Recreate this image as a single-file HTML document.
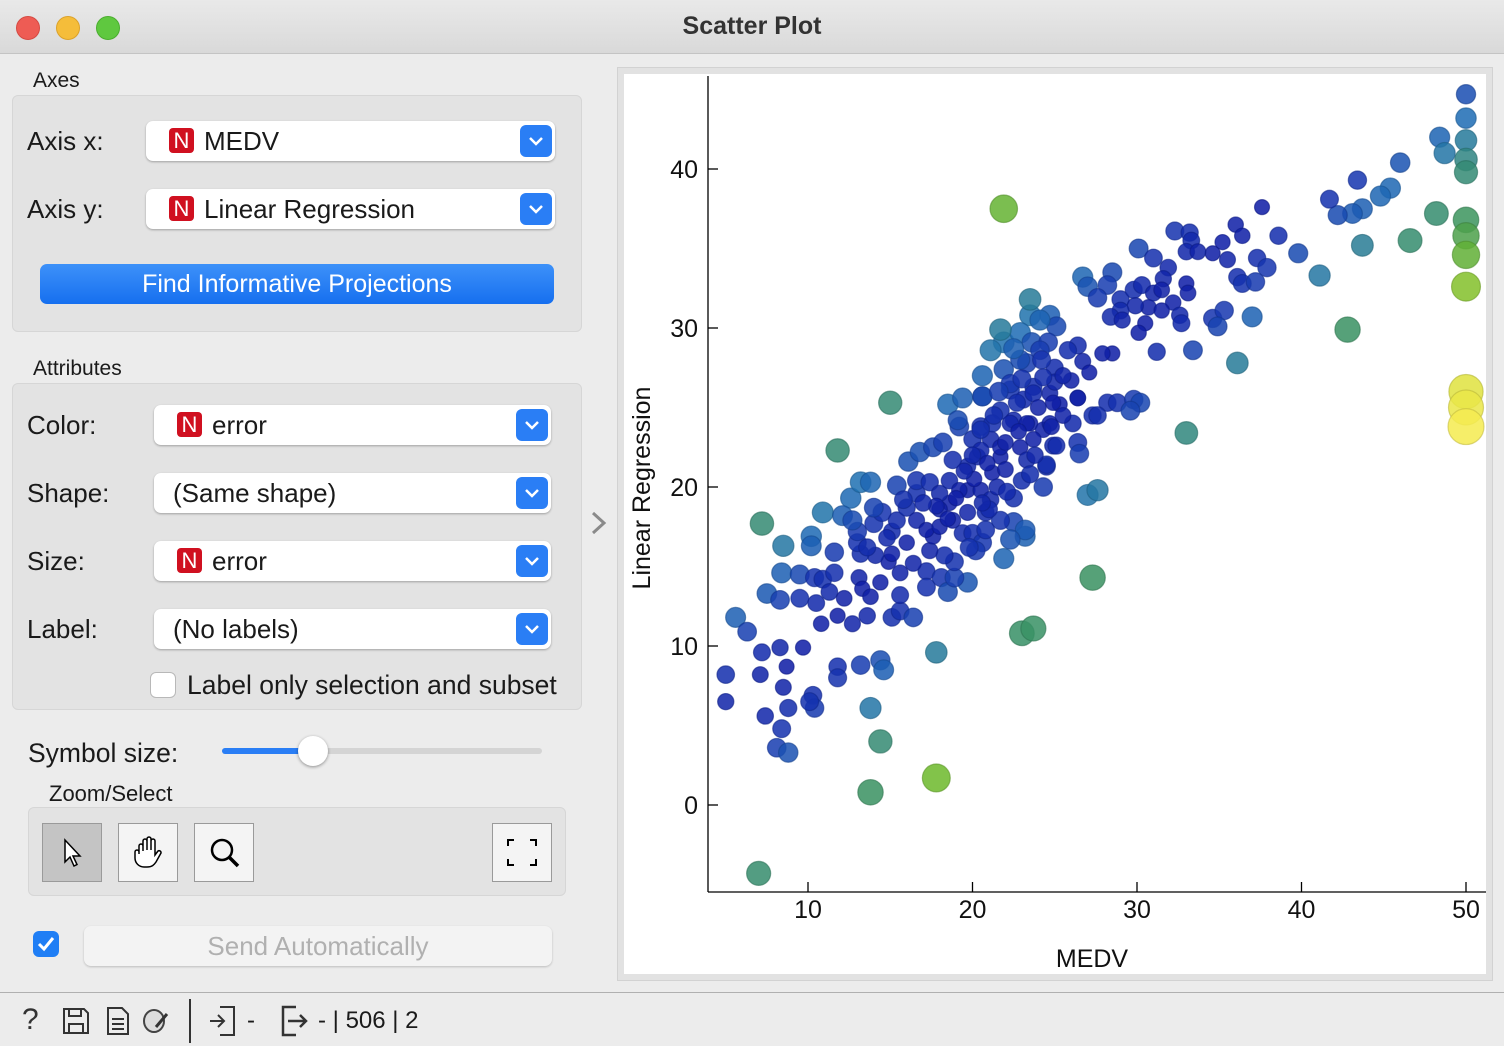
<!DOCTYPE html>
<html><head><meta charset="utf-8">
<style>
*{box-sizing:border-box}
body{margin:0;width:1504px;height:1046px;overflow:hidden;background:#ececec;font-family:"Liberation Sans",sans-serif;color:#1a1a1a;position:relative}
.abs{position:absolute}
.titlebar{left:0;top:0;width:1504px;height:54px;background:linear-gradient(#e9e9e9,#d9d9d9);border-bottom:1px solid #c4c4c4}
.light{width:24px;height:24px;border-radius:50%;top:16px}
.box{background:#e3e3e3;border:1px solid #d6d6d6;border-radius:6px}
.lbl{font-size:26px}
.combo{background:#fff;border-radius:7px;box-shadow:0 1px 2px rgba(0,0,0,.3);height:40px;font-size:26px;line-height:40px}
.badge{position:absolute;top:7px;width:25px;height:25px;background:#d01020;color:#fff;border-radius:4px;font-size:22px;line-height:25px;text-align:center}
.arr{position:absolute;right:3px;top:4px;width:32px;height:32px;background:#2a7ef5;border-radius:6px}
.tb{background:#f4f4f4;border:1px solid #9a9a9a;width:60px;height:59px}
</style></head><body>
<div class="abs titlebar">
 <div class="abs light" style="left:16px;background:#ee5c54;border:1px solid #d54a42"></div>
 <div class="abs light" style="left:56px;background:#f5bd3a;border:1px solid #dca22a"></div>
 <div class="abs light" style="left:96px;background:#5fc83f;border:1px solid #4aae2e"></div>
 <div class="abs" style="left:0;width:1504px;top:12px;text-align:center;font-size:25px;font-weight:bold;color:#333">Scatter Plot</div>
</div>

<div class="abs" style="left:33px;top:69px;font-size:21px">Axes</div>
<div class="abs box" style="left:12px;top:95px;width:570px;height:237px"></div>
<div class="abs lbl" style="left:27px;top:126px">Axis x:</div>
<div class="abs combo" style="left:146px;top:121px;width:409px"><span class="badge" style="left:23px">N</span><span style="position:absolute;left:58px">MEDV</span><span class="arr"><svg width="32" height="32"><path d="M10 13l6 6 6-6" stroke="#fff" stroke-width="2.5" fill="none"/></svg></span></div>
<div class="abs lbl" style="left:27px;top:194px">Axis y:</div>
<div class="abs combo" style="left:146px;top:189px;width:409px"><span class="badge" style="left:23px">N</span><span style="position:absolute;left:58px">Linear Regression</span><span class="arr"><svg width="32" height="32"><path d="M10 13l6 6 6-6" stroke="#fff" stroke-width="2.5" fill="none"/></svg></span></div>
<div class="abs" style="left:40px;top:264px;width:514px;height:40px;border-radius:7px;background:linear-gradient(#3d91f9,#166fef);color:#fff;font-size:25px;line-height:40px;text-align:center">Find Informative Projections</div>

<div class="abs" style="left:33px;top:357px;font-size:21px">Attributes</div>
<div class="abs box" style="left:12px;top:383px;width:570px;height:327px"></div>
<div class="abs lbl" style="left:27px;top:410px">Color:</div>
<div class="abs combo" style="left:154px;top:405px;width:397px"><span class="badge" style="left:23px">N</span><span style="position:absolute;left:58px">error</span><span class="arr"><svg width="32" height="32"><path d="M10 13l6 6 6-6" stroke="#fff" stroke-width="2.5" fill="none"/></svg></span></div>
<div class="abs lbl" style="left:27px;top:478px">Shape:</div>
<div class="abs combo" style="left:154px;top:473px;width:397px"><span style="position:absolute;left:19px">(Same shape)</span><span class="arr"><svg width="32" height="32"><path d="M10 13l6 6 6-6" stroke="#fff" stroke-width="2.5" fill="none"/></svg></span></div>
<div class="abs lbl" style="left:27px;top:546px">Size:</div>
<div class="abs combo" style="left:154px;top:541px;width:397px"><span class="badge" style="left:23px">N</span><span style="position:absolute;left:58px">error</span><span class="arr"><svg width="32" height="32"><path d="M10 13l6 6 6-6" stroke="#fff" stroke-width="2.5" fill="none"/></svg></span></div>
<div class="abs lbl" style="left:27px;top:614px">Label:</div>
<div class="abs combo" style="left:154px;top:609px;width:397px"><span style="position:absolute;left:19px">(No labels)</span><span class="arr"><svg width="32" height="32"><path d="M10 13l6 6 6-6" stroke="#fff" stroke-width="2.5" fill="none"/></svg></span></div>
<div class="abs" style="left:150px;top:672px;width:26px;height:26px;background:#fff;border:1px solid #b8b8b8;border-radius:6px"></div>
<div class="abs" style="left:187px;top:670px;font-size:26.5px">Label only selection and subset</div>

<div class="abs" style="left:28px;top:738px;font-size:26.5px">Symbol size:</div>
<div class="abs" style="left:222px;top:748px;width:320px;height:6px;background:#d4d4d4;border-radius:3px"></div>
<div class="abs" style="left:222px;top:748px;width:92px;height:6px;background:#2a7ef5;border-radius:3px"></div>
<div class="abs" style="left:298px;top:736px;width:30px;height:30px;background:#fff;border-radius:50%;box-shadow:0 1px 3px rgba(0,0,0,.4)"></div>

<div class="abs" style="left:49px;top:781px;font-size:22px">Zoom/Select</div>
<div class="abs box" style="left:28px;top:807px;width:538px;height:89px"></div>
<div class="abs tb" style="left:42px;top:823px;background:#c4c4c4"><svg width="58" height="57"><path d="M22 16v22l5-5 4 9 3-1.5-4-8.5h7z" fill="#fff" stroke="#000" stroke-width="1.5"/></svg></div>
<div class="abs tb" style="left:118px;top:823px"><svg width="58" height="57"><path d="M20 30v-8a2 2 0 014 0v5v-10a2 2 0 014 0v9v-11a2 2 0 014 0v11v-9a2 2 0 014 0v14l3-4a2 2 0 013 2l-5 9c-2 3-4 5-9 5h-3c-5 0-9-4-9-9v-6a2 2 0 014 0z" fill="#fff" stroke="#000" stroke-width="1.5"/></svg></div>
<div class="abs tb" style="left:194px;top:823px"><svg width="58" height="57"><circle cx="27" cy="26" r="10" fill="none" stroke="#000" stroke-width="2.5"/><path d="M34 33l9 9" stroke="#000" stroke-width="3.5"/></svg></div>
<div class="abs tb" style="left:492px;top:823px"><svg width="58" height="57"><path d="M15 22v-6h6M37 16h6v6M43 35v6h-6M21 41h-6v-6" stroke="#000" stroke-width="2" fill="none"/></svg></div>

<div class="abs" style="left:33px;top:931px;width:26px;height:26px;background:#1f7ef5;border-radius:6px"><svg width="26" height="26"><path d="M6 13l5 5 9-11" stroke="#fff" stroke-width="3" fill="none"/></svg></div>
<div class="abs" style="left:84px;top:926px;width:468px;height:40px;background:#f3f3f3;border-radius:7px;box-shadow:0 1px 2px rgba(0,0,0,.2);color:#b0b0b0;font-size:26px;line-height:40px;text-align:center">Send Automatically</div>

<div class="abs" style="left:590px;top:508px;font-size:30px;color:#888"><svg width="20" height="30"><path d="M3 5l11 10-11 10" stroke="#8a8a8a" stroke-width="3" fill="none"/></svg></div>

<div class="abs" style="left:0;top:992px;width:1504px;height:54px;background:#ececec;border-top:1px solid #b0b0b0">
 <div class="abs" style="left:22px;top:10px;font-size:30px;color:#333">?</div>
 <svg class="abs" style="left:62px;top:14px" width="28" height="28"><path d="M2 2h20l4 4v20H2z M7 2v7h12V2 M7 26v-9h14v9" fill="none" stroke="#333" stroke-width="2"/></svg>
 <svg class="abs" style="left:106px;top:13px" width="24" height="30"><path d="M2 2h14l6 6v20H2z M6 13h12M6 18h12M6 23h12" fill="none" stroke="#333" stroke-width="2"/></svg>
 <svg class="abs" style="left:142px;top:14px" width="28" height="28"><ellipse cx="12" cy="14" rx="10" ry="11" fill="#ddd" stroke="#444" stroke-width="2"/><path d="M14 20l11-13" stroke="#333" stroke-width="3"/></svg>
 <div class="abs" style="left:189px;top:6px;width:2px;height:44px;background:#333"></div>
 <svg class="abs" style="left:208px;top:12px" width="30" height="32"><path d="M12 2h14v28H12 M2 16h14 M10 10l6 6-6 6" fill="none" stroke="#333" stroke-width="2"/></svg>
 <div class="abs" style="left:247px;top:14px;font-size:24px">-</div>
 <svg class="abs" style="left:280px;top:12px" width="30" height="32"><path d="M16 2H3v28h13 M8 16h18 M20 10l6 6-6 6" fill="none" stroke="#333" stroke-width="2.5"/></svg>
 <div class="abs" style="left:318px;top:14px;font-size:24px">- | 506 | 2</div>
</div>

<div class="abs" style="left:617px;top:67px;width:876px;height:914px;background:#e2e2e2;border:1px solid #d2d2d2"></div>
<svg class="abs" id="plot" style="left:624px;top:74px;background:#fff" width="862" height="900"></svg>

<script>
const medv=[15.0,11.8,7.2,8.5,10.2,10.2,11.6,8.4,9.5,10.4,10.9,11.6,11.3,7.5,8.3,9.5,10.5,5.6,6.3,10.8,11.8,12.7,12.2,13.1,13.3,13.8,13.6,14.4,15.1,15.6,16.4,15.6,15.6,14.9,15.1,14.1,13.2,13.0,13.6,13.0,14.0,14.5,14.0,15.1,15.4,16.0,16.6,16.6,15.4,16.6,17.4,17.2,17.2,18.1,18.5,19.7,18.9,18.9,18.3,17.4,16.4,17.6,17.2,18.0,18.8,19.4,20.0,20.6,20.2,21.9,20.8,19.7,18.6,18.0,18.6,19.7,20.5,19.7,18.8,20.3,21.2,21.7,21.1,20.0,19.2,20.5,21.7,22.5,22.9,23.5,24.3,24.9,24.5,24.3,23.0,22.5,22.5,23.2,23.2,18.5,19.4,20.6,19.1,16.1,16.8,17.6,12.6,13.2,13.8,10.9,12.1,12.7,22.3,23.1,23.7,24.7,25.3,26.4,26.1,26.4,26.5,27.3,27.0,27.6,27.3,23.0,23.7,5.0,5.0,7.2,8.3,9.7,8.7,7.1,8.5,8.8,7.4,8.4,8.1,8.8,10.3,10.4,10.1,11.8,11.8,13.2,14.4,14.6,13.8,17.8,14.4,17.8,13.8,7.0,21.9,37.6,36.0,36.4,38.6,39.8,41.1,32.3,33.2,33.3,35.2,34.6,35.5,37.3,37.9,36.1,36.4,37.2,33.0,33.7,30.1,31.0,31.9,31.6,28.5,28.2,26.7,27.0,27.6,29.0,29.8,30.3,31.0,31.5,33.0,33.1,32.2,30.7,29.9,29.0,28.4,29.1,30.5,30.1,31.5,32.6,32.7,34.6,35.3,34.9,37.0,36.1,33.0,33.4,31.2,28.5,27.9,26.4,26.7,27.1,26.4,28.2,28.8,29.8,30.2,29.6,27.6,23.5,24.7,25.1,21.9,22.9,23.6,20.6,21.9,20.6,24.6,25.0,25.0,24.3,23.3,22.3,23.7,24.9,22.7,23.3,24.7,25.1,23.7,22.3,21.2,21.7,20.5,20.5,23.3,24.5,50,50,50,50,48.4,48.7,46.0,45.4,44.8,43.7,43.1,42.2,41.7,43.4,43.7,50,50,50,50,50,48.2,46.6,42.8,50,50,50,21.1,22.0,19.2,21.7,20.8,18.0,22.3,24.1,22.9,21.1,21.7,24.1,23.5,25.8,26.0,20.1,20.9,21.5,22.0,22.8,23.8,24.0,23.0,21.3,20.0,19.5,18.5,19.0,21.0,22.1,23.5,24.8,25.5,24.2,22.5,19.8,17.8,16.0,14.8,15.8,21.6,25.5,20.6,18.2,17.0];
const predicted=[25.3,22.3,17.7,16.3,16.9,16.3,15.9,14.6,14.5,14.3,14.2,14.6,13.4,13.3,12.9,13.0,12.7,11.8,10.9,11.4,11.9,11.4,13.0,14.3,13.6,13.1,11.9,14.0,11.8,12.2,11.8,13.2,14.6,15.3,15.8,15.7,15.8,16.5,16.2,17.2,17.7,18.4,18.7,17.2,17.9,18.7,17.9,19.6,20.1,20.4,20.3,14.7,13.7,14.3,13.4,14.0,14.3,15.3,15.7,16.0,15.2,16.9,17.3,17.5,17.9,17.1,17.1,16.5,16.0,15.5,18.4,18.4,19.0,19.6,20.4,19.8,19.8,21.3,21.7,21.9,20.9,21.9,23.0,23.0,23.8,23.8,24.8,24.2,22.5,24.0,23.6,22.6,21.3,20.0,20.4,19.3,17.8,16.9,17.3,25.2,25.6,25.7,24.2,21.6,22.2,22.5,19.3,20.3,20.3,18.4,18.2,17.9,26.1,25.5,26.3,25.9,25.2,25.6,24.0,22.8,22.1,24.5,19.5,19.8,14.3,10.8,11.1,8.2,6.5,9.6,9.9,9.9,8.7,8.2,7.4,6.1,5.6,4.8,3.6,3.3,6.9,6.1,6.5,8.7,8.0,8.8,9.1,8.5,6.1,9.6,4.0,1.7,0.8,-4.3,37.5,37.6,36.5,35.8,35.8,34.7,33.3,36.1,36.0,35.5,35.4,34.7,34.3,34.4,33.8,33.2,32.8,32.9,34.8,34.8,35.0,34.4,33.8,33.1,33.5,32.7,33.2,32.6,31.9,31.8,32.4,32.7,32.2,32.4,32.8,32.2,31.6,31.3,31.4,31.1,30.7,30.5,30.3,29.7,31.1,30.8,30.3,30.6,31.1,30.1,30.7,27.8,23.4,28.6,28.5,28.4,28.4,28.9,27.9,27.2,25.6,25.3,25.3,25.5,25.3,24.8,24.5,30.8,30.8,30.1,29.1,29.7,29.1,27.0,27.4,25.7,29.1,27.5,26.6,26.9,27.8,26.5,25.9,25.3,25.3,24.0,24.0,22.6,23.0,24.0,24.0,22.5,23.6,22.3,21.7,21.4,44.7,43.2,41.8,40.6,42.0,41.0,40.4,38.8,38.3,37.5,37.2,37.1,38.1,39.3,35.2,39.8,36.8,35.8,34.6,32.6,37.2,35.5,29.9,26.0,25.0,23.8,19.2,21.1,19.8,17.9,17.3,18.6,16.7,28.6,28.0,28.6,29.9,30.5,31.8,28.6,26.7,20.5,21.5,20.0,22.8,23.5,22.0,25.0,26.8,24.5,22.0,21.0,18.0,19.3,18.6,19.7,20.8,23.8,27.0,28.0,28.7,16.2,18.8,16.5,16.8,19.2,26.0,24.5,19.0,22.8,19.0];
const xTicks=[10,20,30,40,50];
const yTicks=[0,10,20,30,40];

const NS="http://www.w3.org/2000/svg";
const svg=document.getElementById('plot');
const X0=84, Y1=818, YTOP=2;
const xs=v=>184+(v-10)*16.45;
const ys=v=>731-v*15.9;
function mk(t,a){const e=document.createElementNS(NS,t);for(const k in a)e.setAttribute(k,a[k]);svg.appendChild(e);return e;}
const stops=[[0,[14,28,165]],[4,[22,52,176]],[7,[31,112,180]],[10,[52,138,118]],[13,[58,146,98]],[16,[108,184,44]],[21,[190,212,40]],[26,[245,235,80]]];
function col(e){for(let i=1;i<stops.length;i++){if(e<=stops[i][0]){const a=stops[i-1],b=stops[i],t=(e-a[0])/(b[0]-a[0]);return b[1].map((c,j)=>Math.round(a[1][j]+(c-a[1][j])*t));}}return stops[stops.length-1][1];}
const ax=mk('line',{x1:X0,y1:YTOP,x2:X0,y2:Y1,stroke:'#000','stroke-width':1.3});


const bx=mk('line',{x1:X0,y1:Y1,x2:862,y2:Y1,stroke:'#000','stroke-width':1.3});


xTicks.forEach(v=>{
 const t=mk('line',{x1:xs(v),x2:xs(v),y1:Y1,y2:Y1-10,stroke:'#000','stroke-width':1.3});
 
 
 const l=mk('text',{x:xs(v),y:Y1+26,'text-anchor':'middle','font-size':25,'font-family':'Liberation Sans, sans-serif',fill:'#111'});
 l.textContent=v;
 
 
});
yTicks.forEach(v=>{
 const t=mk('line',{x1:X0,x2:X0+10,y1:ys(v),y2:ys(v),stroke:'#000','stroke-width':1.3});
 
 
 const l=mk('text',{x:X0-10,y:ys(v)+9,'text-anchor':'end','font-size':25,'font-family':'Liberation Sans, sans-serif',fill:'#111'});
 l.textContent=v;
 
 
});
const xt=mk('text',{x:468,y:893,'text-anchor':'middle','font-size':25,'font-family':'Liberation Sans, sans-serif',fill:'#111'});
xt.textContent='MEDV';


const yt=mk('text',{x:0,y:0,'text-anchor':'middle','font-size':25,'font-family':'Liberation Sans, sans-serif',fill:'#111',transform:'translate(26,414) rotate(-90)'});
yt.textContent='Linear Regression';


medv.forEach((m,i)=>{
 const e=Math.abs(predicted[i]-m);
 const c=col(e);
 const p=mk('circle',{cx:xs(m),cy:ys(predicted[i]),r:7.5+0.4*e,fill:`rgba(${c[0]},${c[1]},${c[2]},0.86)`,stroke:`rgba(${Math.round(c[0]*0.8)},${Math.round(c[1]*0.8)},${Math.round(c[2]*0.8)},0.6)`,'stroke-width':1.2});
 
 
});
</script>
</body></html>
